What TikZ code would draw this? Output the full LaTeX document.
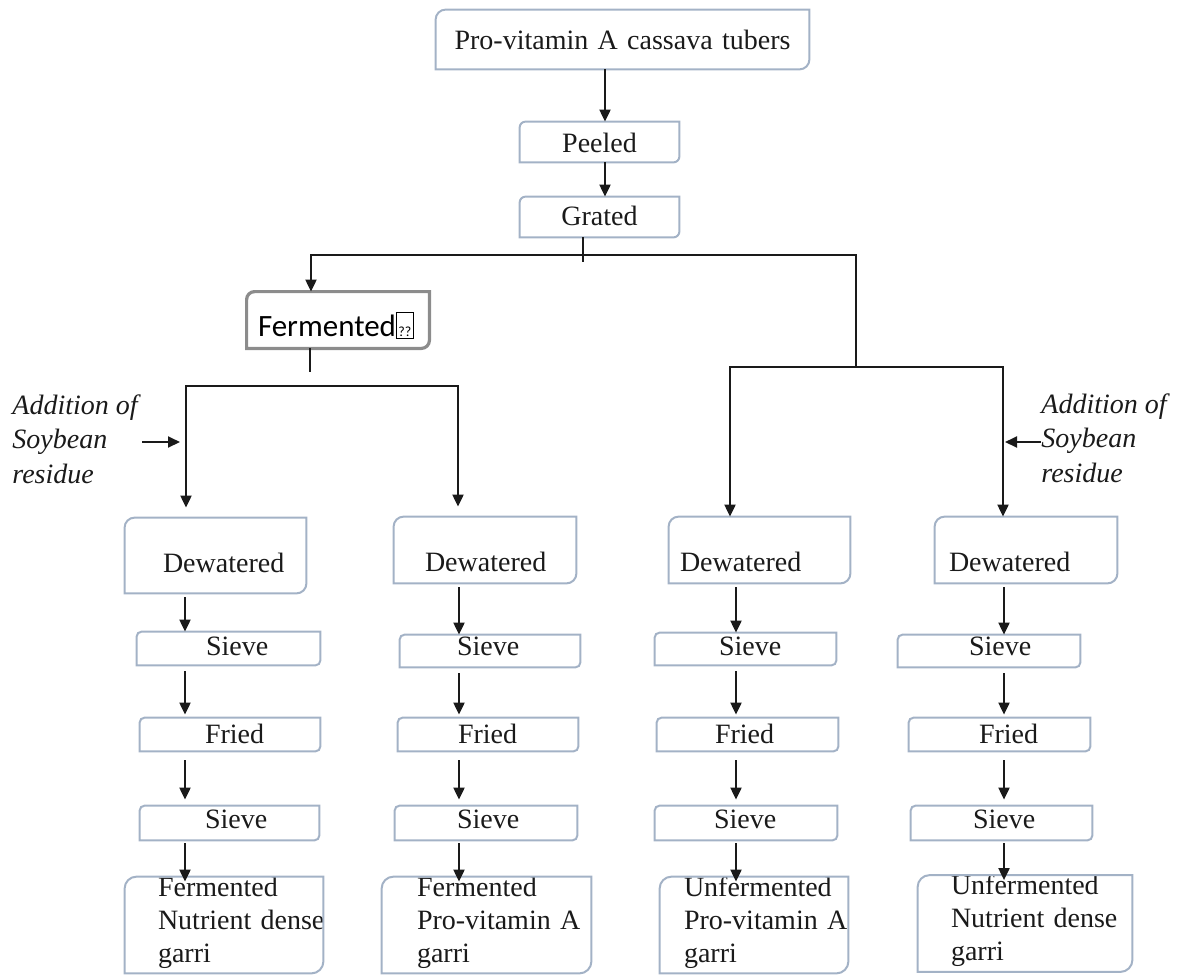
\documentclass[tikz,border=0pt]{standalone}
\usepackage{fontspec}
\setmainfont{Liberation Serif}
\newfontfamily\calibrifont{Carlito}
\usepackage{tikz}
\usetikzlibrary{positioning,calc,arrows.meta}
\tikzset{gpx/.style={x=0.5pt,y=-0.5pt}}
\definecolor{fxline}{HTML}{1A1A1A}
\definecolor{fxborda}{HTML}{A3B2C6}
\definecolor{fxcinza}{HTML}{8C8C8C}
\tikzset{
  etapa/.style={inner sep=0pt,align=left,font=\fontsize{14}{16.5}\selectfont,text=fxline},
  borda/.style={draw=fxborda,line width=1pt},
  bordacinza/.style={draw=fxcinza,line width=1.6pt},
  fio/.style={draw=fxline,line width=1pt},
  seta/.style={fio,-{Triangle[length=6pt,width=5.5pt]}},
  nota/.style={inner sep=0pt,align=left,anchor=north west,font=\fontsize{14}{17.25}\selectfont\itshape,text=fxline},
}

\begin{document}
\begin{tikzpicture}[gpx]
  \useasboundingbox (0,0) rectangle (1177,975);
  \node[etapa,align=center,text width=186.5pt,text height=19.5pt,text depth=10pt] (tuberculo) at (622.5,39.5) {Pro-vitamin A cassava tubers};
  \node[etapa,align=center,text width=79.5pt,text height=15pt,text depth=5pt] (descascado) at (599.5,142) {Peeled};
  \node[etapa,align=center,text width=79.5pt,text height=14pt,text depth=6pt] (ralado) at (599.5,217) {Grated};
  \node[etapa,font=\calibrifont\fontsize{15.5}{18}\selectfont,text=black,text width=91pt,text height=22pt,text depth=6pt] (fermentado) at (338,320) {\hspace*{5.5pt}Fermented{\fboxsep=0.6pt\fboxrule=0.6pt\fbox{\rule[-0.5pt]{0pt}{11.5pt}\fontsize{7}{7}\selectfont ??}}};
  \node[etapa,text width=90.5pt,text height=27pt,text depth=10.5pt] (desag1) at (215.5,555.5) {\hspace*{19pt}Dewatered};
  \node[etapa,text width=91pt,text height=27pt,text depth=6pt] (desag2) at (485,550) {\hspace*{15.5pt}Dewatered};
  \node[etapa,text width=90.5pt,text height=27pt,text depth=6pt] (desag3) at (759.5,550) {\hspace*{5.5pt}Dewatered};
  \node[etapa,text width=91pt,text height=27pt,text depth=6pt] (desag4) at (1026,550) {\hspace*{7pt}Dewatered};
  \node[etapa,text width=91.5pt,text height=11.5pt,text depth=5pt] (peneira1) at (228.5,648.5) {\hspace*{34.5pt}Sieve};
  \node[etapa,text width=90pt,text height=10pt,text depth=6pt] (peneira2) at (490,651) {\hspace*{28.5pt}Sieve};
  \node[etapa,text width=90.5pt,text height=11pt,text depth=5pt] (peneira3) at (745.5,649) {\hspace*{32pt}Sieve};
  \node[etapa,text width=91pt,text height=10pt,text depth=6pt] (peneira4) at (989,651) {\hspace*{35.5pt}Sieve};
  \node[etapa,text width=90pt,text height=12.5pt,text depth=4pt] (frito1) at (230,734.5) {\hspace*{32.5pt}Fried};
  \node[etapa,text width=90pt,text height=12.5pt,text depth=4pt] (frito2) at (488,734.5) {\hspace*{30pt}Fried};
  \node[etapa,text width=90.5pt,text height=12.5pt,text depth=4pt] (frito3) at (747.5,734.5) {\hspace*{29pt}Fried};
  \node[etapa,text width=90.5pt,text height=12.5pt,text depth=4pt] (frito4) at (999.5,734.5) {\hspace*{35pt}Fried};
  \node[etapa,text width=89.5pt,text height=11pt,text depth=6pt] (crivo1) at (229.5,823) {\hspace*{32.5pt}Sieve};
  \node[etapa,text width=91pt,text height=11pt,text depth=6pt] (crivo2) at (486,823) {\hspace*{31pt}Sieve};
  \node[etapa,text width=91pt,text height=11pt,text depth=6pt] (crivo3) at (746,823) {\hspace*{29.5pt}Sieve};
  \node[etapa,text width=90.5pt,text height=11pt,text depth=6pt] (crivo4) at (1001.5,823) {\hspace*{31pt}Sieve};
  \node[etapa,text width=99pt,text height=9.5pt,text depth=38.5pt] (garri1) at (224,925) {\hspace*{16.5pt}\begin{tabular}[t]{@{}l@{}}Fermented\\Nutrient dense\\garri\end{tabular}};
  \node[etapa,text width=104.5pt,text height=9.5pt,text depth=38.5pt] (garri2) at (486.5,925) {\hspace*{17.5pt}\begin{tabular}[t]{@{}l@{}}Fermented\\Pro-vitamin A\\garri\end{tabular}};
  \node[etapa,text width=94pt,text height=9.5pt,text depth=38.5pt] (garri3) at (754,925) {\hspace*{12pt}\begin{tabular}[t]{@{}l@{}}Unfermented\\Pro-vitamin A\\garri\end{tabular}};
  \node[etapa,text width=107pt,text height=9.5pt,text depth=38.5pt] (garri4) at (1025,923.5) {\hspace*{16.5pt}\begin{tabular}[t]{@{}l@{}}Unfermented\\Nutrient dense\\garri\end{tabular}};
  \node[nota] (soja1) at (12,394) {Addition of\\Soybean\\residue};
  \node[nota] (soja4) at (1041,393) {Addition of\\Soybean\\residue};
  \foreach \n/\r in {tuberculo/5pt,descascado/3pt,ralado/3pt,desag1/5pt,desag2/5pt,desag3/5pt,desag4/5pt,peneira1/2.5pt,peneira2/2.5pt,peneira3/2.5pt,peneira4/2.5pt,frito1/2.5pt,frito2/2.5pt,frito3/2.5pt,frito4/2.5pt,crivo1/2.5pt,crivo2/2.5pt,crivo3/2.5pt,crivo4/2.5pt,garri1/6pt,garri2/6pt,garri3/6pt,garri4/6pt} \draw[borda] ([yshift=-\r]\n.north west) arc[start angle=180,end angle=90,radius=\r] -- (\n.north east) -- ([yshift=\r]\n.south east) arc[start angle=0,end angle=-90,radius=\r] -- (\n.south west) -- cycle;
  \draw[bordacinza] ([yshift=-4pt]fermentado.north west) arc[start angle=180,end angle=90,radius=4pt] -- (fermentado.north east) -- ([yshift=4pt]fermentado.south east) arc[start angle=0,end angle=-90,radius=4pt] -- (fermentado.south west) -- cycle;
  \coordinate (eixo) at (605,0);
  \coordinate (gr) at (583,255);
  \coordinate (ra) at (856,367);
  \coordinate (fe) at (310,386);
  \coordinate (ad1) at (142,442);
  \coordinate (ad4) at (1041,442);
  \foreach \k/\x in {k1/186,k2/458,k3/730,k4/1003,c1/185,c2/459,c3/736,c4/1004} \coordinate (\k) at (\x,0);
  \draw[seta] (tuberculo.south -| eixo) -- (descascado.north -| eixo);
  \draw[seta] (descascado.south -| eixo) -- (ralado.north -| eixo);
  \draw[fio] (ralado.south -| gr) -- ([yshift=-3.5pt]gr);
  \draw[seta] (gr) -| ([xshift=-13.5pt]fermentado.north);
  \draw[fio] (gr) -| (ra);
  \draw[seta] (ra) -| (desag3.north -| k3);
  \draw[seta] (ra) -| (desag4.north -| k4);
  \draw[fio] (fermentado.south -| fe) -- ([yshift=7pt]fe);
  \draw[seta,shorten >=5pt] (fe) -| (desag1.north -| k1);
  \draw[seta,shorten >=5pt] (fe) -| (desag2.north -| k2);
  \draw[seta,shorten >=3pt] (ad1) -- (ad1 -| k1);
  \draw[seta,shorten >=1pt] (ad4) -- (ad4 -| k4);
  \foreach \i in {1,2,3,4} {
    \draw[seta,shorten <=2pt] (desag\i.south -| c\i) -- (peneira\i.north -| c\i);
    \draw[seta,shorten <=3pt,shorten >=1.5pt] (peneira\i.south -| c\i) -- (frito\i.north -| c\i);
    \draw[seta,shorten <=4.5pt,shorten >=3pt] (frito\i.south -| c\i) -- (crivo\i.north -| c\i);
    \draw[seta,shorten <=1.5pt,shorten >=-2.5pt] (crivo\i.south -| c\i) -- (garri\i.north -| c\i);
  }
\end{tikzpicture}
\end{document}
